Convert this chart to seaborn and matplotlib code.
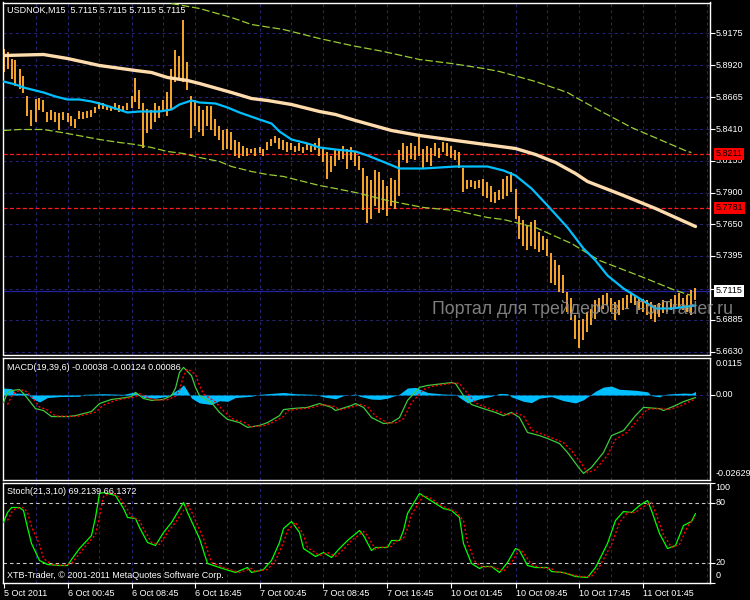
import matplotlib
matplotlib.use("Agg")
import matplotlib.pyplot as plt
import seaborn as sns

# ---------------- data ----------------
bar_high = [5.9055,5.9023,5.8975,5.8959,5.8895,5.8839,5.8679,5.8559,5.8655,5.8663,
            5.8639,5.8543,5.8559,5.8543,5.8535,5.8543,5.8535,5.8519,5.8495,5.8551,
            5.8543,5.8551,5.8559,5.8591,5.8623,5.8615,5.8607,5.8591,5.8615,5.8607,
            5.8599,5.8615,5.8679,5.8823,5.8719,5.8615,5.8575,5.8559,5.8615,5.8599,
            5.8639,5.8703,5.8895,5.9039,5.8999,5.9279,5.8943,5.8679,5.8639,5.8599,
            5.8559,5.8599,5.8599,5.8495,5.8439,5.8399,5.8415,5.8383,5.8319,5.8303,
            5.8279,5.8263,5.8255,5.8263,5.8271,5.8255,5.8303,5.8335,5.8359,5.8343,
            5.8319,5.8303,5.8295,5.8279,5.8295,5.8271,5.8287,5.8279,5.8295,5.8343,
            5.8255,5.8223,5.8199,5.8239,5.8255,5.8279,5.8255,5.8271,5.8223,5.8199,
            5.8103,5.8039,5.7999,5.8079,5.8063,5.7999,5.7959,5.8023,5.7999,5.8239,
            5.8295,5.8279,5.8295,5.8279,5.8359,5.8255,5.8279,5.8263,5.8295,5.8263,
            5.8303,5.8295,5.8279,5.8239,5.8223,5.8103,5.7999,5.7999,5.7991,5.7999,
            5.8015,5.7983,5.7959,5.7903,5.7919,5.8015,5.8039,5.8063,5.7935,5.7719,
            5.7679,5.7639,5.7663,5.7679,5.7583,5.7559,5.7535,5.7415,5.7359,5.7319,
            5.7239,5.7103,5.7063,5.6919,5.6879,5.6895,5.6943,5.6975,5.7039,5.7063,
            5.7079,5.7095,5.7063,5.7023,5.7039,5.7063,5.7079,5.7095,5.7079,5.7063,
            5.7055,5.7039,5.7023,5.6999,5.7015,5.7039,5.7023,5.7055,5.7079,5.7095,
            5.7063,5.7079,5.7119,5.7143]
bar_low = [5.8863,5.8895,5.8815,5.8759,5.8735,5.8695,5.8519,5.8439,5.8463,5.8559,
           5.8543,5.8463,5.8479,5.8463,5.8399,5.8479,5.8463,5.8439,5.8423,5.8495,
           5.8495,5.8503,5.8511,5.8535,5.8575,5.8575,5.8559,5.8551,5.8559,5.8543,
           5.8551,5.8559,5.8583,5.8623,5.8575,5.8263,5.8375,5.8415,5.8463,5.8503,
           5.8543,5.8519,5.8575,5.8783,5.8799,5.8783,5.8719,5.8343,5.8439,5.8383,
           5.8359,5.8439,5.8399,5.8359,5.8319,5.8239,5.8255,5.8239,5.8199,5.8183,
           5.8199,5.8199,5.8215,5.8199,5.8215,5.8199,5.8239,5.8279,5.8295,5.8255,
           5.8239,5.8223,5.8239,5.8223,5.8231,5.8215,5.8239,5.8223,5.8239,5.8199,
           5.8143,5.8015,5.8063,5.8119,5.8159,5.8175,5.8095,5.8159,5.8119,5.8079,
           5.7759,5.7655,5.7695,5.7799,5.7735,5.7759,5.7719,5.7799,5.7775,5.7879,
           5.8159,5.8135,5.8175,5.8159,5.8199,5.8095,5.8143,5.8119,5.8199,5.8183,
           5.8223,5.8199,5.8183,5.8159,5.8103,5.7903,5.7935,5.7951,5.7935,5.7943,
           5.7879,5.7863,5.7823,5.7815,5.7839,5.7855,5.7879,5.7903,5.7695,5.7535,
           5.7479,5.7439,5.7479,5.7455,5.7423,5.7439,5.7399,5.7175,5.7159,5.7103,
           5.7095,5.6943,5.6879,5.6735,5.6663,5.6719,5.6783,5.6839,5.6895,5.6943,
           5.6975,5.6999,5.6943,5.6879,5.6919,5.6959,5.6975,5.7015,5.6999,5.6959,
           5.6943,5.6919,5.6895,5.6863,5.6911,5.6935,5.6943,5.6959,5.6975,5.6991,
           5.6959,5.6943,5.6919,5.7039]
bar_idx = list(range(len(bar_high)))

ma_slow_idx = [0,10,16,24,33,37,41,46,49,57,62,66,72,79,83,88,97,104,113,128,133,138,143,146,155,163,168,173]
ma_slow = [5.8999,5.9007,5.8975,5.8919,5.8879,5.8863,5.8823,5.8799,5.8775,5.8703,5.8655,5.8639,5.8607,5.8551,
           5.8527,5.8479,5.8399,5.8359,5.8319,5.8255,5.8207,5.8143,5.8055,5.7991,5.7879,5.7775,5.7703,5.7631]

ma_fast_idx = [0,3,5,8,10,13,16,19,22,24,28,31,34,39,42,44,47,49,53,56,59,64,67,69,72,76,79,83,88,91,
               96,99,105,113,121,125,128,132,136,141,145,148,151,155,159,163,167,171,173]
ma_fast = [5.8791,5.8767,5.8743,5.8719,5.8703,5.8671,5.8647,5.8647,5.8631,5.8615,
           5.8575,5.8543,5.8551,5.8551,5.8567,5.8607,5.8639,5.8623,5.8615,5.8583,
           5.8543,5.8487,5.8455,5.8391,5.8327,5.8295,5.8263,5.8247,5.8231,5.8199,
           5.8135,5.8095,5.8095,5.8111,5.8111,5.8079,5.8039,5.7935,5.7799,5.7623,
           5.7455,5.7359,5.7239,5.7135,5.7055,5.6975,5.6975,5.6991,5.6999]

env_up_idx = [42,49,57,62,70,79,87,95,104,112,120,124,133,141,144,149,157,171,172]
env_up = [5.9415,5.9375,5.9303,5.9247,5.9207,5.9135,5.9079,5.9031,5.8967,5.8935,5.8895,5.8871,5.8791,
          5.8703,5.8647,5.8559,5.8423,5.8231,5.8223]
env_lo_idx = [0,4,10,13,16,20,24,29,33,37,41,45,49,54,57,62,66,70,74,79,83,88,96,105,113,121,125,133,142,149,160,168,172]
env_lo = [5.8399,5.8407,5.8407,5.8391,5.8375,5.8351,5.8327,5.8303,5.8287,5.8263,
          5.8231,5.8215,5.8183,5.8151,5.8111,5.8071,5.8047,5.8031,5.7999,5.7959,
          5.7935,5.7903,5.7839,5.7783,5.7759,5.7703,5.7687,5.7623,5.7495,5.7359,
          5.7223,5.7119,5.7079]

order_levels = [5.8211, 5.7781]
bid_price = 5.7115

price_ticks = [5.9175,5.8920,5.8665,5.8410,5.8155,5.7900,5.7650,5.7395,5.7135,5.6885,5.6630]
price_labels = ["5.9175","5.8920","5.8665","5.8410","5.8155","5.7900","5.7650","5.7395","","5.6885","5.6630"]

macd_idx = [0,1,2,4,5,7,8,10,12,16,18,22,24,27,29,32,33,35,37,40,42,43,44,45,47,48,49,52,54,56,
            57,59,61,64,66,69,70,72,76,79,82,83,87,88,90,92,95,97,99,101,104,106,110,112,113,115,117,120,123,125,
            127,129,131,134,136,139,141,144,145,147,150,152,155,158,160,164,165,168,170,173]
macd_main = [-0.0024,0.0008,0.0014,0.0017,0.0005,-0.0027,-0.0043,-0.0049,-0.0068,-0.0068,
             -0.0065,-0.0052,-0.0027,-0.0014,-0.0011,-0.0005,0.0008,-0.0011,-0.0017,-0.0014,
             -0.0002,0.0021,0.0071,0.0087,0.0061,0.0024,-0.0002,-0.0024,-0.0055,-0.0077,
             -0.0080,-0.0087,-0.0102,-0.0096,-0.0087,-0.0065,-0.0046,-0.0043,-0.0039,-0.0027,
             -0.0039,-0.0049,-0.0033,-0.0027,-0.0039,-0.0071,-0.0090,-0.0087,-0.0071,-0.0017,
             0.0024,0.0030,0.0036,0.0039,0.0036,-0.0002,-0.0030,-0.0043,-0.0055,-0.0065,
             -0.0055,-0.0071,-0.0118,-0.0128,-0.0137,-0.0153,-0.0181,-0.0232,-0.0247,-0.0228,
             -0.0181,-0.0128,-0.0112,-0.0065,-0.0039,-0.0043,-0.0049,-0.0033,-0.0021,-0.0008]
macd_sig_idx = [1,2,3,5,6,8,9,11,13,17,19,23,25,28,30,33,34,36,38,41,43,44,45,46,48,49,50,53,55,57,
                58,60,62,65,67,70,71,73,77,80,83,84,88,89,91,93,96,98,100,102,105,107,111,113,114,116,118,121,124,126,
                128,130,132,135,137,140,142,145,146,148,151,153,156,159,161,165,166,169,171,173]
macd_signal = [-0.0030,-0.0005,0.0010,0.0016,0.0008,-0.0020,-0.0038,-0.0047,-0.0066,-0.0068,
               -0.0066,-0.0054,-0.0032,-0.0017,-0.0012,-0.0006,0.0004,-0.0008,-0.0016,-0.0015,
               -0.0004,0.0015,0.0060,0.0082,0.0065,0.0030,0.0003,-0.0022,-0.0050,-0.0073,
               -0.0079,-0.0085,-0.0100,-0.0097,-0.0088,-0.0068,-0.0050,-0.0045,-0.0040,-0.0030,
               -0.0037,-0.0047,-0.0035,-0.0029,-0.0037,-0.0066,-0.0088,-0.0088,-0.0075,-0.0025,
               0.0017,0.0027,0.0035,0.0038,0.0036,0.0005,-0.0025,-0.0041,-0.0053,-0.0063,
               -0.0057,-0.0066,-0.0110,-0.0125,-0.0135,-0.0150,-0.0175,-0.0225,-0.0245,-0.0235,
               -0.0190,-0.0140,-0.0117,-0.0072,-0.0045,-0.0042,-0.0047,-0.0036,-0.0024,-0.0012]
hist_idx = [0,2,3,6,7,9,11,14,19,20,25,30,33,35,38,41,42,44,45,46,47,49,52,54,56,58,62,64,68,70,
            73,78,80,83,85,88,89,92,94,96,99,101,103,106,110,113,114,116,119,122,124,126,127,130,132,134,137,140,143,145,
            147,148,150,152,154,158,161,162,164,165,166,170,172,173]
macd_hist = [0.0022,0.0020,0.0006,0.0005,-0.0010,-0.0022,-0.0008,-0.0005,-0.0004,0.0002,
             0.0004,0.0002,0.0010,-0.0008,-0.0010,-0.0004,0.0005,0.0020,0.0032,0.0012,
             -0.0010,-0.0025,-0.0030,-0.0018,-0.0020,-0.0008,-0.0004,0.0002,0.0006,0.0008,
             0.0004,0.0002,-0.0006,-0.0012,-0.0002,0.0003,-0.0004,-0.0013,-0.0014,-0.0010,
             0.0003,0.0022,0.0024,0.0008,0.0003,0.0002,-0.0008,-0.0025,-0.0012,-0.0004,
             0.0005,0.0004,-0.0006,-0.0020,-0.0024,-0.0010,-0.0005,-0.0018,-0.0025,-0.0015,
             0.0003,0.0012,0.0025,0.0028,0.0018,0.0015,0.0010,-0.0002,-0.0006,0.0000,
             0.0003,0.0006,0.0005,0.0011]
macd_top, macd_bottom = 0.0115, -0.02629

stoch_idx = [0,1,2,4,5,6,7,9,11,14,16,17,19,22,23,24,25,28,30,31,33,34,36,38,40,42,45,46,49,51,
             54,58,61,62,65,67,69,70,72,74,75,78,80,82,84,86,89,90,92,93,96,97,99,100,101,104,106,108,110,112,
             114,115,117,119,120,122,124,126,128,129,131,133,136,137,140,143,146,148,151,153,
             155,157,159,161,162,164,166,168,170,172,173]
stoch_k = [60,70,75,75,72,55,39,22,18,17,17,23,34,47,65,89,90,87,74,65,
           64,55,40,37,50,60,80,70,44,19,15,10,15,10,13,22,40,54,61,50,
           34,26,30,25,34,42,52,47,32,35,35,42,42,52,69,89,84,79,74,72,
           65,39,19,14,16,16,10,20,34,32,17,15,15,11,10,6,5,15,39,62,
           71,70,77,82,72,49,34,37,57,61,69]
stoch_sig_idx = [1,2,3,5,6,7,9,10,12,15,17,18,20,23,24,25,27,29,31,32,34,35,37,39,41,43,46,47,50,52,
                 55,59,62,63,66,68,70,71,73,75,76,79,81,83,85,87,90,91,93,94,97,98,100,101,102,105,107,109,111,113,
                 115,116,118,120,121,123,125,127,129,130,132,134,137,138,141,144,147,149,152,154,
                 156,158,160,162,163,165,167,169,171,173]
stoch_d = [62,70,74,75,70,56,38,24,18,17,19,24,34,48,66,86,90,85,73,66,
           62,54,40,38,50,60,78,71,44,20,15,10,14,11,13,22,40,52,60,48,
           35,27,30,26,33,42,51,47,33,35,36,41,44,54,68,87,84,78,74,71,
           62,40,20,15,16,15,11,20,33,30,18,15,14,11,9,6,6,16,38,60,
           70,70,76,80,70,48,35,38,56,66]
stoch_levels = [80, 20]

time_idx = [0,16,32,48,64,80,96,112,128,144,160]
time_labels = ["5 Oct 2011","6 Oct 00:45","6 Oct 08:45","6 Oct 16:45","7 Oct 00:45","7 Oct 08:45",
               "7 Oct 16:45","10 Oct 01:45","10 Oct 09:45","10 Oct 17:45","11 Oct 01:45"]
grid_idx = list(range(8, 177, 8))

title_text = "USDNOK,M15  5.7115 5.7115 5.7115 5.7115"
macd_text = "MACD(19,39,6) -0.00038 -0.00124 0.00086"
stoch_text = "Stoch(21,3,10) 69.2139 66.1372"
copyright_text = "XTB-Trader, \u00a9 2001-2011 MetaQuotes Software Corp."
watermark = "Портал для трейдеров - ForTrader.ru"

# ---------------- style ----------------
sns.set_theme(style="dark", rc={"axes.facecolor": "black", "figure.facecolor": "black"})
plt.rcParams["font.family"] = ["Liberation Sans", "DejaVu Sans"]
plt.rcParams["lines.scale_dashes"] = False
plt.rcParams["axes.grid"] = False

GRID = "#23236f"
FS = 6.5
W, H = 750, 600
fig = plt.figure(figsize=(7.5, 6), dpi=100, facecolor="black")


def px_axes(x0, y0, x1, y1):
    return fig.add_axes([x0 / W, 1 - y1 / H, (x1 - x0) / W, (y1 - y0) / H])


ax = px_axes(2.5, 2.5, 710.5, 354.5)
axm = px_axes(2.5, 357.5, 710.5, 479.5)
axs = px_axes(2.5, 482.5, 710.5, 582.5)

for a in (ax, axm, axs):
    a.set_facecolor("black")
    for s in a.spines.values():
        s.set_color("white")
        s.set_linewidth(1.0)
    a.set_xlim(-0.25, 176.75)
    a.tick_params(left=False, labelleft=False, bottom=False, labelbottom=False,
                  right=True, labelright=False, direction="out", length=3.5,
                  color="white", width=0.8)
    for g in grid_idx:
        a.axvline(g, color=GRID, lw=0.8, ls=(0, (2.2, 2.2)), zorder=0)
    a.set_xlabel("")
    a.set_ylabel("")


def right_label(a, y, text, coords="data", dy=0, va="center", fc=None, color="white"):
    kw = {}
    if fc is not None:
        kw["bbox"] = dict(boxstyle="square,pad=0.18", fc=fc, ec="none")
    a.annotate(text, xy=(1, y), xycoords=("axes fraction", "axes fraction" if coords == "axes" else "data"),
               xytext=(5, dy), textcoords="offset pixels", ha="left", va=va,
               color=color, fontsize=FS, annotation_clip=False, **kw)


# ---------------- main price panel ----------------
ax.set_ylim(5.6607, 5.9423)
for p in price_ticks:
    ax.axhline(p, color=GRID, lw=0.8, ls=(0, (2.2, 2.2)), zorder=0)
ax.set_yticks(price_ticks)
for p, lab in zip(price_ticks, price_labels):
    if lab:
        right_label(ax, p, lab)

ax.axhline(bid_price, color="#2323a0", lw=0.9, zorder=1)
for lv in order_levels:
    ax.axhline(lv, color="#ff1a1a", lw=0.9, ls=(0, (3, 1.6)), zorder=1)

ax.vlines(bar_idx, bar_low, bar_high, color="#f2a12a", lw=1.45, zorder=2)

sns.lineplot(x=env_up_idx, y=env_up, ax=ax, color="#9acd32", lw=0.9, ls=(0, (5.5, 2)), errorbar=None, zorder=3)
sns.lineplot(x=env_lo_idx, y=env_lo, ax=ax, color="#9acd32", lw=0.9, ls=(0, (5.5, 2)), errorbar=None, zorder=3)
sns.lineplot(x=ma_slow_idx, y=ma_slow, ax=ax, color="#ffdcae", lw=2.4, errorbar=None, zorder=4)
sns.lineplot(x=ma_fast_idx, y=ma_fast, ax=ax, color="#00bfff", lw=1.6, errorbar=None, zorder=5)

for lv in order_levels:
    right_label(ax, lv, f"{lv:.4f}", fc="#ff0000", color="black", dy=0)
right_label(ax, bid_price, f"{bid_price:.4f}", fc="white", color="black")

ax.set_xlim(-0.25, 176.75)
ax.set_xlabel("")
ax.set_ylabel("")

# ---------------- MACD panel ----------------
axm.set_ylim(-0.02662, 0.01181)
axm.axhline(0, color=GRID, lw=0.8, ls=(0, (2.2, 2.2)), zorder=0)
axm.fill_between(hist_idx, 0, macd_hist, color="#00bfff", lw=0, zorder=2)
sns.lineplot(x=macd_idx, y=macd_main, ax=axm, color="#3ccc3c", lw=0.9, errorbar=None, zorder=3)
sns.lineplot(x=macd_sig_idx, y=macd_signal, ax=axm, color="#ff0000", lw=1.0, ls=(0, (1.5, 1.5)), errorbar=None, zorder=4)
axm.set_yticks([0])
right_label(axm, 1, f"{macd_top:.4f}", coords="axes", va="top", dy=-2)
right_label(axm, 0, "0.00")
right_label(axm, 0, f"{macd_bottom:.5f}", coords="axes", va="bottom", dy=2)
axm.set_xlim(-0.25, 176.75)
axm.set_xlabel("")
axm.set_ylabel("")

# ---------------- Stochastic panel ----------------
axs.set_ylim(0, 100)
for lv in stoch_levels:
    axs.axhline(lv, color="#c8c8c8", lw=0.8, ls=(0, (2.5, 2.2)), zorder=1)
sns.lineplot(x=stoch_idx, y=stoch_k, ax=axs, color="#00ff00", lw=0.9, errorbar=None, zorder=3)
sns.lineplot(x=stoch_sig_idx, y=stoch_d, ax=axs, color="#ff0000", lw=1.0, ls=(0, (1.5, 1.5)), errorbar=None, zorder=4)
axs.set_yticks([100, 80, 20, 0])
right_label(axs, 1, "100", coords="axes", va="top", dy=-1)
right_label(axs, 80, "80")
right_label(axs, 20, "20")
right_label(axs, 0, "0", coords="axes", va="bottom", dy=2)
axs.set_xlim(-0.25, 176.75)
axs.set_xticks(time_idx)
axs.set_xticklabels(time_labels, ha="left")
axs.tick_params(bottom=True, labelbottom=True, length=3.6, width=0.8, color="white",
                labelcolor="white", labelsize=FS, pad=0.8)
axs.set_xlabel("")
axs.set_ylabel("")

# ---------------- texts ----------------
fig.text(7 / W, 1 - 10.5 / H, title_text, color="white", fontsize=FS, va="center", ha="left")
fig.text(7 / W, 1 - 368 / H, macd_text, color="white", fontsize=FS, va="center", ha="left")
fig.text(7 / W, 1 - 492 / H, stoch_text, color="white", fontsize=FS, va="center", ha="left")
fig.text(7 / W, 1 - 575 / H, copyright_text, color="white", fontsize=FS, va="center", ha="left")
fig.text(432 / W, 1 - 308.5 / H, watermark, color="#8a8a8a", fontsize=12.8, va="center", ha="left",
         alpha=0.92, zorder=20)

fig.savefig("out.png", dpi=100, facecolor="black")
